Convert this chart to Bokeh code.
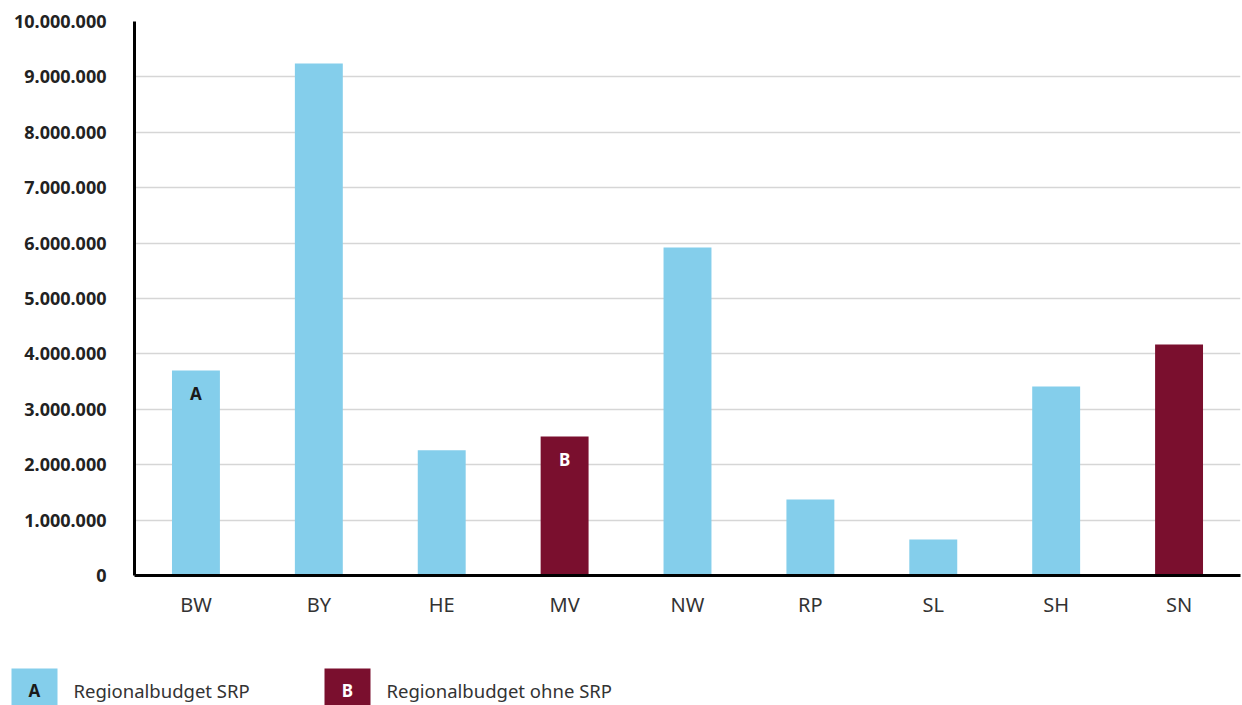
from bokeh.plotting import figure
from bokeh.models import FactorRange, Range1d, FixedTicker, ColumnDataSource
from bokeh.layouts import column
from bokeh.core.properties import value
from bokeh.embed import file_html
from bokeh.resources import INLINE

# ---- data ----
categories = ["BW", "BY", "HE", "MV", "NW", "RP", "SL", "SH", "SN"]
values = [3700000, 9240000, 2260000, 2510000, 5920000, 1370000, 650000, 3410000, 4170000]
series = ["A", "A", "A", "B", "A", "A", "A", "A", "B"]
y_ticks = [0, 1000000, 2000000, 3000000, 4000000, 5000000, 6000000, 7000000, 8000000, 9000000, 10000000]
y_tick_labels = ["0", "1.000.000", "2.000.000", "3.000.000", "4.000.000", "5.000.000",
                 "6.000.000", "7.000.000", "8.000.000", "9.000.000", "10.000.000"]
legend_keys = ["A", "B"]
legend_labels = ["Regionalbudget SRP", "Regionalbudget ohne SRP"]

# ---- styles ----
colors = {"A": "#84CEEB", "B": "#7A0F2E"}
key_text_colors = {"A": "#1a1a1a", "B": "#ffffff"}
FONT = "Noto Sans"

src = ColumnDataSource(dict(
    cat=categories, val=values,
    color=[colors[s] for s in series],
))

p = figure(x_range=FactorRange(*categories, range_padding=0),
           y_range=Range1d(0, 10000000),
           width=1242, height=640, output_backend="svg", toolbar_location=None,
           min_border_left=134, min_border_right=2, min_border_top=21, min_border_bottom=65)
p.frame_align = False
p.outline_line_color = None
p.vbar(x="cat", top="val", width=0.39, color="color", source=src, line_color=None)

# series key letter on the first bar of each series
for key in legend_keys:
    i = series.index(key)
    p.text(x=[categories[i]], y=[values[i]], text=[key], text_align="center",
           text_baseline="middle", y_offset=23, text_font=value(FONT),
           text_font_style="bold", text_font_size="17px", text_color=key_text_colors[key])

p.xgrid.grid_line_color = None
p.ygrid.grid_line_color = "#d6d6d6"
p.ygrid.grid_line_width = 1.5
p.yaxis.ticker = FixedTicker(ticks=y_ticks)
p.yaxis.major_label_overrides = {t: l for t, l in zip(y_ticks, y_tick_labels)}
for ax in (p.xaxis[0], p.yaxis[0]):
    ax.axis_line_color = "black"
    ax.axis_line_width = 3
    ax.major_tick_line_color = None
    ax.minor_tick_line_color = None
    ax.major_label_text_font = FONT
p.yaxis.major_label_text_font_style = "bold"
p.yaxis.major_label_text_font_size = "18px"
p.yaxis.major_label_text_color = "#222222"
p.yaxis.major_label_standoff = 22
p.xaxis.major_label_text_font_size = "20px"
p.xaxis.major_label_text_color = "#333333"
p.xaxis.major_label_standoff = 9

# ---- legend strip (separate figure, pixel-like coordinates) ----
lg = figure(width=1242, height=65, x_range=Range1d(0, 1242), y_range=Range1d(65, 0),
            output_backend="svg", toolbar_location=None,
            min_border_left=0, min_border_right=0, min_border_top=0, min_border_bottom=0)
lg.frame_align = False
lg.axis.visible = False
lg.grid.visible = False
lg.outline_line_color = None
box_left = [11, 324]
for key, label, bl in zip(legend_keys, legend_labels, box_left):
    lg.quad(left=[bl], right=[bl + 46], top=[28], bottom=[66], color=colors[key], line_color=None)
    lg.text(x=[bl + 23], y=[50], text=[key], text_align="center", text_baseline="middle",
            text_font=value(FONT), text_font_style="bold", text_font_size="17px",
            text_color=key_text_colors[key])
    lg.text(x=[bl + 62], y=[50], text=[label], text_align="left", text_baseline="middle",
            text_font=value(FONT), text_font_size="18.5px", text_color="#333333")

layout = column(p, lg, spacing=0)
open("out.html", "w").write(file_html(layout, INLINE))
